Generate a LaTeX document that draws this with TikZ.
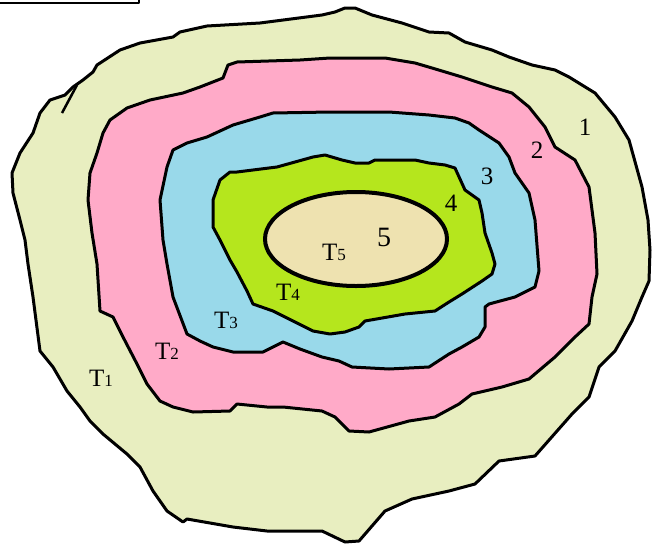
\documentclass[tikz,border=0pt]{standalone}
\usepackage{fontspec}
\setmainfont{Liberation Serif}
\usepackage{tikz}

\definecolor{zoneone}{HTML}{E8EEC0}
\definecolor{zonetwo}{HTML}{FFAAC8}
\definecolor{zonethree}{HTML}{99D9EA}
\definecolor{zonefour}{HTML}{B5E61D}
\definecolor{zonefive}{HTML}{EEE2B0}

\newcommand{\tsub}[1]{{\fontsize{17}{17}\selectfont #1}}

\begin{document}
\begin{tikzpicture}[x=1pt, y=-1pt, line join=round,
  zone/.style={draw=black, line width=3pt},
  num/.style={font=\fontsize{25}{25}\selectfont, inner sep=0pt},
  tlab/.style={font=\fontsize{25}{25}\selectfont, inner sep=0pt}]
  \useasboundingbox (0,0) rectangle (652,544);
  % corner of a frame
  \draw[line width=2pt] (0,2.5) -- (139,2.5) -- (139,0);
  % zone 1
  \draw[zone, fill=zoneone] (40,351) -- (33,297) -- (28,264) -- (25,240) -- (20,220) -- (13,193) -- (12,173)
    -- (20,153) -- (33,133) -- (40,113) -- (50,100) -- (65,95) -- (73,87) -- (83,80) -- (93,72) -- (97,65)
    -- (120,50) -- (140,43) -- (173,37) -- (180,32) -- (207,26) -- (260,23) -- (322,15) -- (335,12) -- (345,8)
    -- (355,8) -- (372,15) -- (402,23) -- (429,32) -- (449,33) -- (465,42) -- (492,50) -- (509,57) -- (532,65)
    -- (555,70) -- (569,77) -- (595,93) -- (615,117) -- (629,140) -- (642,187) -- (648,220) -- (650,250)
    -- (649,281) -- (642,297) -- (632,321) -- (615,351) -- (599,367) -- (589,397) -- (572,414) -- (535,456)
    -- (499,461) -- (475,484) -- (449,491) -- (412,499) -- (385,511) -- (359,541) -- (345,542) -- (322,531)
    -- (267,531) -- (233,527) -- (187,519) -- (183,522) -- (167,511) -- (153,491) -- (140,467) -- (127,454)
    -- (103,434) -- (90,421) -- (80,407) -- (67,391) -- (53,367) -- cycle;
  \draw[line width=2.5pt] (77,85) -- (62,113);
  % zone 2
  \draw[zone, fill=zonetwo] (88,200) -- (92,233) -- (97,264) -- (100,311) -- (113,317) -- (123,337) -- (137,364)
    -- (147,384) -- (160,401) -- (173,407) -- (193,412) -- (230,411) -- (237,404) -- (267,407) -- (283,407)
    -- (322,411) -- (335,417) -- (349,431) -- (369,432) -- (409,421) -- (435,417) -- (459,404) -- (472,394)
    -- (502,387) -- (529,379) -- (555,357) -- (575,337) -- (589,324) -- (592,297) -- (597,274) -- (595,233)
    -- (589,187) -- (575,160) -- (555,147) -- (545,127) -- (529,107) -- (512,93) -- (492,87) -- (462,77)
    -- (432,68) -- (415,63) -- (385,58) -- (330,58) -- (300,60) -- (237,62) -- (228,65) -- (223,78) -- (200,87)
    -- (183,93) -- (150,100) -- (127,108) -- (110,120) -- (103,133) -- (97,153) -- (90,173) -- cycle;
  % zone 3
  \draw[zone, fill=zonethree] (160,200) -- (163,240) -- (167,264) -- (173,297) -- (187,334) -- (200,341)
    -- (213,347) -- (233,352) -- (263,352) -- (283,342) -- (300,349) -- (322,357) -- (339,361) -- (352,367)
    -- (389,369) -- (429,367) -- (449,354) -- (462,347) -- (479,337) -- (485,327) -- (485,307) -- (489,304)
    -- (515,297) -- (535,287) -- (539,271) -- (535,220) -- (529,193) -- (515,173) -- (509,157) -- (499,143)
    -- (479,130) -- (469,123) -- (455,118) -- (429,115) -- (389,112) -- (330,112) -- (273,113) -- (260,117)
    -- (233,125) -- (207,137) -- (187,143) -- (173,150) -- (167,167) -- cycle;
  % zone 4
  \draw[zone, fill=zonefour] (213,200) -- (213,227) -- (220,240) -- (230,260) -- (237,272) -- (247,291)
    -- (253,304) -- (273,311) -- (293,321) -- (313,331) -- (330,334) -- (345,332) -- (359,327) -- (365,321)
    -- (405,314) -- (435,311) -- (449,302) -- (462,294) -- (482,281) -- (492,274) -- (495,264) -- (492,253)
    -- (485,233) -- (482,213) -- (479,200) -- (465,190) -- (455,168) -- (445,165) -- (429,163) -- (415,160)
    -- (375,160) -- (369,163) -- (355,163) -- (342,160) -- (325,155) -- (313,157) -- (277,167) -- (237,172)
    -- (230,172) -- (220,180) -- cycle;
  % zone 5
  \draw[draw=black, line width=4pt, fill=zonefive] (356,239) ellipse [x radius=91, y radius=47];
  % numbers
  \node[num] (n1) at (585,127) {1};
  \node[num] (n2) at (537,150) {2};
  \node[num] (n3) at (487,176) {3};
  \node[num] (n4) at (451,203) {4};
  \node[num, font=\fontsize{28}{28}\selectfont] (n5) at (384,237) {5};
  % zone names
  \node[tlab] (t1) at (101,378) {T\tsub{1}};
  \node[tlab] (t2) at (167,351) {T\tsub{2}};
  \node[tlab] (t3) at (226,320) {T\tsub{3}};
  \node[tlab] (t4) at (288,292) {T\tsub{4}};
  \node[tlab] (t5) at (334,252) {T\tsub{5}};
\end{tikzpicture}
\end{document}
